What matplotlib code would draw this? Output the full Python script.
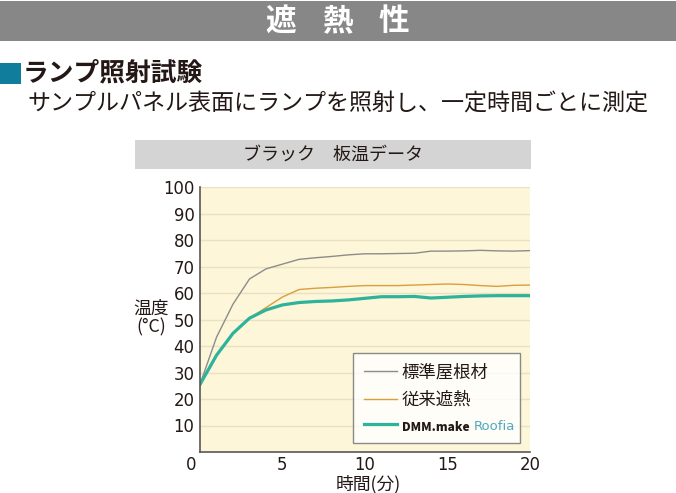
import matplotlib
matplotlib.use("Agg")
import matplotlib.pyplot as plt
import matplotlib.transforms as mtransforms
from matplotlib.patches import Rectangle
from matplotlib.lines import Line2D

plt.rcParams['font.family'] = ['Noto Sans CJK JP', 'DejaVu Sans']

# data
minutes = list(range(0, 21))
standard_roof = [25.5, 43.3, 55.8, 65.3, 69.1, 70.9, 72.7, 73.3, 73.8, 74.4, 74.8,
                 74.8, 74.9, 75.0, 75.8, 75.8, 75.9, 76.1, 75.9, 75.8, 76.0]
conventional = [25.5, 36.5, 44.8, 50.5, 54.5, 58.5, 61.3, 61.8, 62.1, 62.5, 62.8,
                62.8, 62.8, 63.0, 63.2, 63.4, 63.2, 62.8, 62.5, 62.9, 63.0]
roofia = [25.5, 36.5, 44.8, 50.5, 53.6, 55.5, 56.4, 56.8, 57.0, 57.4, 58.0,
          58.6, 58.6, 58.7, 58.1, 58.4, 58.7, 58.9, 59.0, 59.0, 59.0]
legend_labels = ["標準屋根材", "従来遮熱", "DMM.make"]
y_ticks = [10, 20, 30, 40, 50, 60, 70, 80, 90, 100]
x_ticks = [0, 5, 10, 15, 20]

W, H = 676, 493
DARK = "#231815"

fig = plt.figure(figsize=(W / 100, H / 100), dpi=100)

def fx(px):
    return px / W

def fy(py):
    return 1 - py / H

# header band
fig.patches.append(Rectangle((0, fy(41)), 1, (41 - 1) / H, transform=fig.transFigure,
                             facecolor="#878787", edgecolor="none"))
for ch, cx in zip("遮熱性", [281, 337, 394]):
    fig.text(fx(cx), fy(21), ch, color="white", fontsize=22, fontweight="bold",
             ha="center", va="center")

# section heading
fig.patches.append(Rectangle((0, fy(84)), 21 / W, 21 / H, transform=fig.transFigure,
                             facecolor="#117d9c", edgecolor="none"))
fig.text(fx(23), fy(73), "ランプ照射試験", color=DARK, fontsize=18.5, fontweight="bold",
         ha="left", va="center")
fig.text(fx(338), fy(104), "サンプルパネル表面にランプを照射し、一定時間ごとに測定",
         color=DARK, fontsize=16.6, ha="center", va="center")

# chart title box
fig.patches.append(Rectangle((fx(135), fy(169)), (531 - 135) / W, (169 - 140) / H,
                             transform=fig.transFigure, facecolor="#d4d4d4", edgecolor="none"))
fig.text(fx(333), fy(155), "ブラック　板温データ", color=DARK, fontsize=13,
         ha="center", va="center")

# plot
ax = fig.add_axes([fx(200), fy(452), (530 - 200) / W, (452 - 187) / H])
ax.set_facecolor("#fdf6d8")
ax.set_xlim(0, 20)
ax.set_ylim(0, 100)
ax.set_yticks(y_ticks)
ax.set_xticks(x_ticks)
ax.grid(axis="y", color="#ebe1c2", linewidth=1)
ax.set_axisbelow(True)
for s in ["top", "right"]:
    ax.spines[s].set_visible(False)
for s in ["left", "bottom"]:
    ax.spines[s].set_color("#595757")
    ax.spines[s].set_linewidth(1.2)
ax.tick_params(length=0, labelsize=11.9, labelcolor=DARK)
ax.tick_params(axis="y", pad=4)
ax.tick_params(axis="x", pad=3)
for lab in ax.get_xticklabels() + ax.get_yticklabels():
    lab.set_fontfamily("DejaVu Sans")

# the "0" under the y axis sits like a y label
zero = ax.get_xticklabels()[0]
zero.set_horizontalalignment("right")
zero.set_transform(zero.get_transform() +
                   mtransforms.ScaledTranslation(-4 / 100, 0, fig.dpi_scale_trans))

ax.plot(minutes, standard_roof, color="#8c8c8c", linewidth=1.0)
ax.plot(minutes, conventional, color="#d89f3c", linewidth=1.0)
ax.plot(minutes, roofia, color="#2db39b", linewidth=2.3)

fig.text(fx(151), fy(318), "温度\n(°C)", color=DARK, fontsize=12.8, ha="center",
         va="center", linespacing=1.05)
fig.text(fx(368), fy(484.5), "時間(分)", color=DARK, fontsize=12.8, ha="center", va="center")

handles = [Line2D([], [], color="#8c8c8c", linewidth=1.0),
           Line2D([], [], color="#d89f3c", linewidth=1.0),
           Line2D([], [], color="#2db39b", linewidth=2.3)]
leg = ax.legend(handles, legend_labels, loc="lower left",
                bbox_to_anchor=(0.464, 0.034, 0.506, 0.34), mode="expand",
                fontsize=12.5, frameon=True, fancybox=False, handlelength=1.9,
                handletextpad=0.3, borderpad=0.6, labelspacing=0.55, borderaxespad=0)
leg.get_frame().set_edgecolor("#6e6e6e")
leg.get_frame().set_linewidth(1.0)
leg.get_frame().set_facecolor("white")
for t in leg.get_texts():
    t.set_color(DARK)
dmm = leg.get_texts()[2]
dmm.set_fontweight("heavy")
dmm.set_fontsize(8.6)

fig.canvas.draw()
bb = dmm.get_window_extent()
fig.text(bb.x1 / W + 4 / W, (bb.y0 + bb.y1) / 2 / H, "Roofia", color="#4eaabd",
         fontsize=9.5, ha="left", va="center", fontfamily="DejaVu Sans")

fig.savefig("out.png", dpi=100)
